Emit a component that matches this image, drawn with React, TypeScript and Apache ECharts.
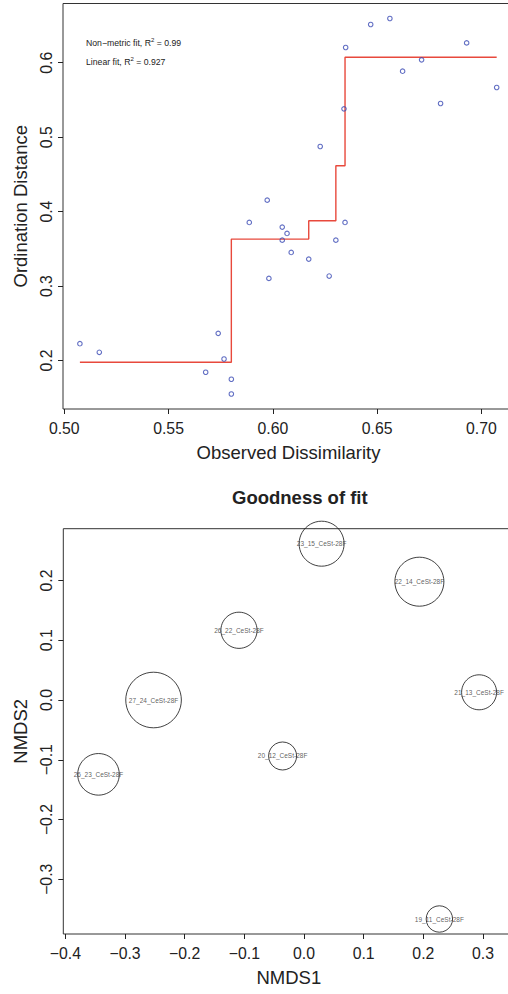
import React, { useEffect, useRef } from "react";
import * as echarts from "echarts";

// Shepard diagram: observed dissimilarity against ordination distance
const observedDissimilarity = [
  0.6469, 0.6561, 0.6349, 0.6929, 0.6713, 0.6622, 0.7073, 0.6804, 0.6341, 0.6227,
  0.5973, 0.5887, 0.6045, 0.6068, 0.6045, 0.6346, 0.6302, 0.6088, 0.6172, 0.5981,
  0.627, 0.5075, 0.5168, 0.5738, 0.5766, 0.5678, 0.5801, 0.5801,
];
const ordinationDistance = [
  0.6513, 0.6593, 0.6204, 0.6266, 0.6038, 0.5886, 0.5667, 0.5452, 0.538, 0.4875,
  0.4154, 0.3855, 0.3792, 0.3707, 0.3617, 0.3855, 0.3617, 0.3452, 0.3362, 0.3103,
  0.3134, 0.2226, 0.211, 0.2365, 0.202, 0.1842, 0.1748, 0.155,
];
// monotone (non-metric) regression steps
const fitX = [0.5075, 0.5801, 0.6172, 0.6302, 0.6346, 0.7073];
const fitY = [0.1976, 0.3631, 0.3877, 0.4615, 0.6074, 0.6074];
const nonMetricR2 = "0.99";
const linearR2 = "0.927";

const shepardXTicks = [0.5, 0.55, 0.6, 0.65, 0.7];
const shepardYTicks = [0.2, 0.3, 0.4, 0.5, 0.6];

// NMDS site scores and goodness of fit
const siteNames = [
  "26_22_CeSt-28F",
  "27_24_CeSt-28F",
  "23_15_CeSt-28F",
  "22_14_CeSt-28F",
  "21_13_CeSt-28F",
  "26_23_CeSt-28F",
  "20_12_CeSt-28F",
  "19_11_CeSt-28F",
];
const nmds1 = [-0.109, -0.2522, 0.0295, 0.1934, 0.2935, -0.3445, -0.0359, 0.2269];
const nmds2 = [0.1167, 0.0, 0.2616, 0.198, 0.0129, -0.1244, -0.0937, -0.3665];
const goodness = [0.0372, 0.0566, 0.046, 0.05, 0.036, 0.0426, 0.029, 0.0274];

const nmdsXTicks = [-0.4, -0.3, -0.2, -0.1, 0.0, 0.1, 0.2, 0.3];
const nmdsYTicks = [-0.3, -0.2, -0.1, 0.0, 0.1, 0.2];

const FONT = "'Liberation Sans', Arial, Helvetica, sans-serif";
const INK = "#222";
const PX_PER_GOODNESS = 500;

const minusFmt = (v: number, d: number) =>
  (v < -1e-9 ? "\u2212" : "") + Math.abs(v).toFixed(d);

function valueAxis(
  gridIndex: number,
  min: number,
  max: number,
  ticks: number[],
  digits: number,
  name: string,
  vertical: boolean
) {
  return {
    type: "value",
    gridIndex,
    min,
    max,
    position: vertical ? "left" : "bottom",
    name,
    nameLocation: "middle",
    nameGap: vertical ? 32 : 34,
    nameRotate: vertical ? 90 : 0,
    nameTextStyle: { fontFamily: FONT, fontSize: 18.5, color: INK },
    axisLine: { show: false, onZero: false },
    splitLine: { show: false },
    axisTick: {
      show: true,
      length: 5,
      customValues: ticks,
      lineStyle: { color: INK, width: 1 },
    },
    axisLabel: {
      show: true,
      customValues: ticks,
      rotate: vertical ? 90 : 0,
      margin: vertical ? 9 : 11,
      fontFamily: FONT,
      fontSize: 15.8,
      color: INK,
      formatter: (v: number) => minusFmt(v, digits),
    },
  };
}

export default function App() {
  const ref = useRef<HTMLDivElement>(null);

  useEffect(() => {
    if (!ref.current) return;
    const chart = echarts.init(ref.current, undefined, { renderer: "svg" });

    const shepardPoints = observedDissimilarity.map((x, i) => [x, ordinationDistance[i]]);
    const fitLine = fitX.map((x, i) => [x, fitY[i]]);
    const sites = siteNames.map((n, i) => ({
      name: n,
      value: [nmds1[i], nmds2[i]],
      symbolSize: goodness[i] * PX_PER_GOODNESS * 2 - 1,
    }));

    const richR2 = {
      a: { fontFamily: FONT, fontSize: 8.7, fill: INK, lineHeight: 12 },
      s: { fontFamily: FONT, fontSize: 6, fill: INK, verticalAlign: "top", lineHeight: 12 },
    };

    chart.setOption({
      animation: false,
      backgroundColor: "#fff",
      textStyle: { fontFamily: FONT },
      title: {
        text: "Goodness of fit",
        left: 232,
        top: 488,
        padding: 0,
        textStyle: { fontFamily: FONT, fontSize: 18.5, fontWeight: "bold", color: INK },
      },
      grid: [
        {
          left: 63,
          top: 3.5,
          width: 451,
          height: 405.5,
          show: true,
          borderColor: "#333",
          borderWidth: 1,
          backgroundColor: "transparent",
          containLabel: false,
          outerBoundsMode: "none",
        },
        {
          left: 63.3,
          top: 528.7,
          width: 451,
          height: 405.3,
          show: true,
          borderColor: "#333",
          borderWidth: 1,
          backgroundColor: "transparent",
          containLabel: false,
          outerBoundsMode: "none",
        },
      ],
      xAxis: [
        valueAxis(0, 0.4994, 0.7156, shepardXTicks, 2, "Observed Dissimilarity", false),
        valueAxis(1, -0.4035, 0.3525, nmdsXTicks, 1, "NMDS1", false),
      ],
      yAxis: [
        valueAxis(0, 0.1349, 0.6795, shepardYTicks, 1, "Ordination Distance", true),
        valueAxis(1, -0.3916, 0.2867, nmdsYTicks, 1, "NMDS2", true),
      ],
      graphic: [
        {
          type: "text",
          x: 86,
          y: 42.7,
          style: {
            text: "{a|Non\u2212metric fit, R}{s|2}{a| = " + nonMetricR2 + "}",
            verticalAlign: "middle",
            rich: richR2,
          },
        },
        {
          type: "text",
          x: 86,
          y: 62,
          style: {
            text: "{a|Linear fit, R}{s|2}{a| = " + linearR2 + "}",
            verticalAlign: "middle",
            rich: richR2,
          },
        },
      ],
      series: [
        {
          type: "line",
          xAxisIndex: 0,
          yAxisIndex: 0,
          data: fitLine,
          step: "end",
          showSymbol: false,
          symbol: "none",
          lineStyle: { color: "#e8493c", width: 1.4 },
          z: 2,
          clip: false,
        },
        {
          type: "scatter",
          xAxisIndex: 0,
          yAxisIndex: 0,
          data: shepardPoints,
          symbol: "circle",
          symbolSize: 4.5,
          itemStyle: { color: "transparent", borderColor: "#3a4ab4", borderWidth: 1.1 },
          z: 3,
          clip: false,
        },
        {
          type: "scatter",
          xAxisIndex: 1,
          yAxisIndex: 1,
          data: sites,
          symbol: "circle",
          itemStyle: { color: "transparent", borderColor: "#111", borderWidth: 1 },
          label: {
            show: true,
            position: "inside",
            formatter: (p: any) => p.name,
            fontFamily: FONT,
            fontSize: 6.5,
            color: "#333",
            textBorderWidth: 0,
          },
          clip: false,
          z: 3,
        },
      ],
    });

    return () => chart.dispose();
  }, []);

  return (
    <div
      ref={ref}
      style={{ position: "fixed", left: 0, top: 0, width: 508, height: 994, background: "#fff" }}
    />
  );
}
